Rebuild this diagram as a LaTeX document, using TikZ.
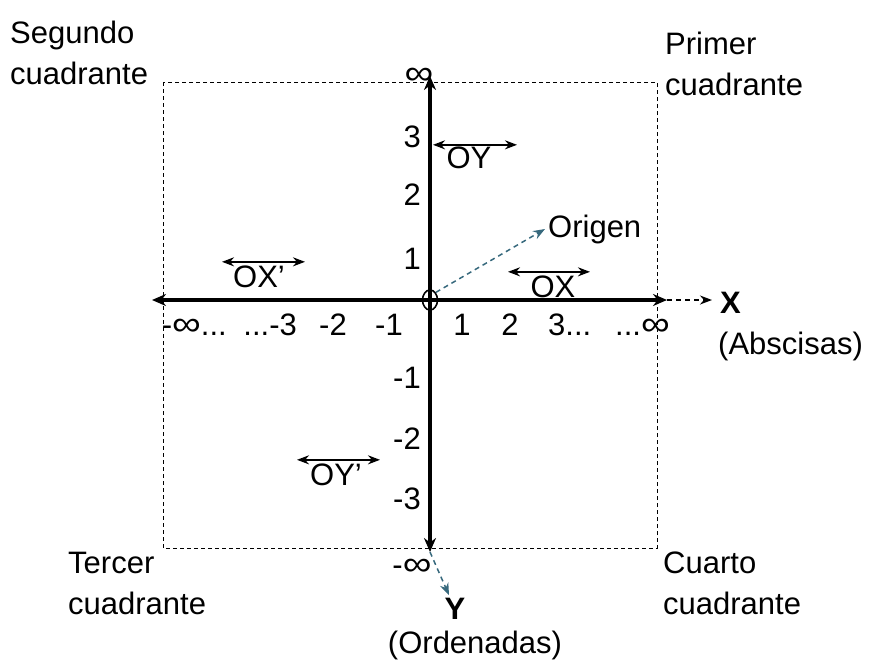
\documentclass[tikz,border=0pt]{standalone}
\usepackage{fontspec}
\setmainfont{Liberation Sans}
\usetikzlibrary{arrows.meta,shapes.geometric}
\definecolor{guia}{RGB}{55,105,125}
\newcommand{\infin}{\scalebox{1.3}[1.1]{∞}}

\begin{document}
\begin{tikzpicture}[
  x=1pt, y=-1pt,
  every node/.style={font=\fontsize{31}{41}\selectfont},
  quadrant/.style={anchor=north west, inner sep=0pt, align=left},
  tick/.style={inner sep=0pt},
  sensename/.style={inner sep=0pt},
  axis/.style={line width=4.5pt, {Stealth[length=14pt,width=12pt]}-{Stealth[length=14pt,width=12pt]}},
  frame/.style={dash pattern=on 4pt off 3pt, line width=0.9pt},
  sense/.style={line width=1.8pt, {Stealth[length=12pt,width=9pt]}-{Stealth[length=12pt,width=9pt]}},
  pointer/.style={dash pattern=on 5pt off 4pt, line width=1.5pt, -{Stealth[length=12pt,width=9pt]}},
]
\useasboundingbox (0,0) rectangle (879,664);

%% Frame of the quadrants
\draw[frame] (163,82) rectangle (657,548);

%% Axes
\coordinate (xl) at (152,300);
\coordinate (xr) at (667,300);
\coordinate (yt) at (430,76);
\coordinate (yb) at (430,552);
\draw[axis] (xl) -- (xr);
\draw[axis, line width=3.5pt] (yb) -- (yt);

%% Origin
\node[draw, ellipse, line width=1.6pt, minimum width=15pt, minimum height=20pt, inner sep=0pt] (o) at (430,300) {};
\node[anchor=west, inner sep=3pt] (orig) at (545,229) {Origen};
\draw[pointer, guia] (o.north east) -- (orig.west);

%% Quadrant names
\node[quadrant] (q2) at (10,21) {Segundo\\cuadrante};
\node[quadrant] (q1) at (665,32) {Primer\\cuadrante};
\node[quadrant] (q3) at (68,552) {Tercer\\cuadrante};
\node[quadrant] (q4) at (663,552) {Cuarto\\cuadrante};

%% Axis names
\node[anchor=west, inner sep=8pt] (xlab) at (712,303) {\bfseries X};
\node[anchor=west, inner sep=0pt] (xname) at (718,346) {(Abscisas)};
\draw[pointer] (xr) -- (xr -| xlab.west);
\node[inner sep=3pt] (ylab) at (455,609) {\bfseries Y};
\node[inner sep=0pt] (yname) at (475,645) {(Ordenadas)};
\draw[pointer, guia] (yb) -- ([xshift=-6pt]ylab.north);

%% Ticks on the vertical axis
\node[tick, anchor=center] (yinf) at (419,76) {\infin};
\node[tick, anchor=base east] (y3) at (421,147) {3};
\node[tick, anchor=base east] (y2) at (421,205) {2};
\node[tick, anchor=base east] (y1) at (421,269) {1};
\node[tick, anchor=base east] (ym1) at (421,388) {-1};
\node[tick, anchor=base east] (ym2) at (421,449) {-2};
\node[tick, anchor=base east] (ym3) at (421,509) {-3};
\node[tick, anchor=center] (yminf) at (412,567) {-\infin};

%% Ticks on the horizontal axis
\node[tick, anchor=base east] (xm3) at (297,335) {-\infin... \,...-3};
\node[tick, anchor=base] (xm2) at (333,335) {-2};
\node[tick, anchor=base] (xm1) at (389,335) {-1};
\node[tick, anchor=base] (x1) at (462,335) {1};
\node[tick, anchor=base] (x2) at (510,335) {2};
\node[tick, anchor=base west] (x3) at (548,335) {3...};
\node[tick, anchor=base east] (xinf) at (670,335) {...\infin};

%% Senses of the half axes
\node[sensename] (oy) at (469,158) {OY};
\draw[sense] ([xshift=-36pt,yshift=2pt]oy.north) -- ([xshift=48pt,yshift=2pt]oy.north);
\node[sensename] (ox) at (553,287) {OX};
\draw[sense] ([xshift=-45pt,yshift=4pt]ox.north) -- ([xshift=37pt,yshift=4pt]ox.north);
\node[sensename] (oxp) at (259,277) {OX’};
\draw[sense] ([xshift=-37pt,yshift=4pt]oxp.north) -- ([xshift=46pt,yshift=4pt]oxp.north);
\node[sensename] (oyp) at (336,475) {OY’};
\draw[sense] ([xshift=-39pt,yshift=4pt]oyp.north) -- ([xshift=44pt,yshift=4pt]oyp.north);

\end{tikzpicture}
\end{document}
